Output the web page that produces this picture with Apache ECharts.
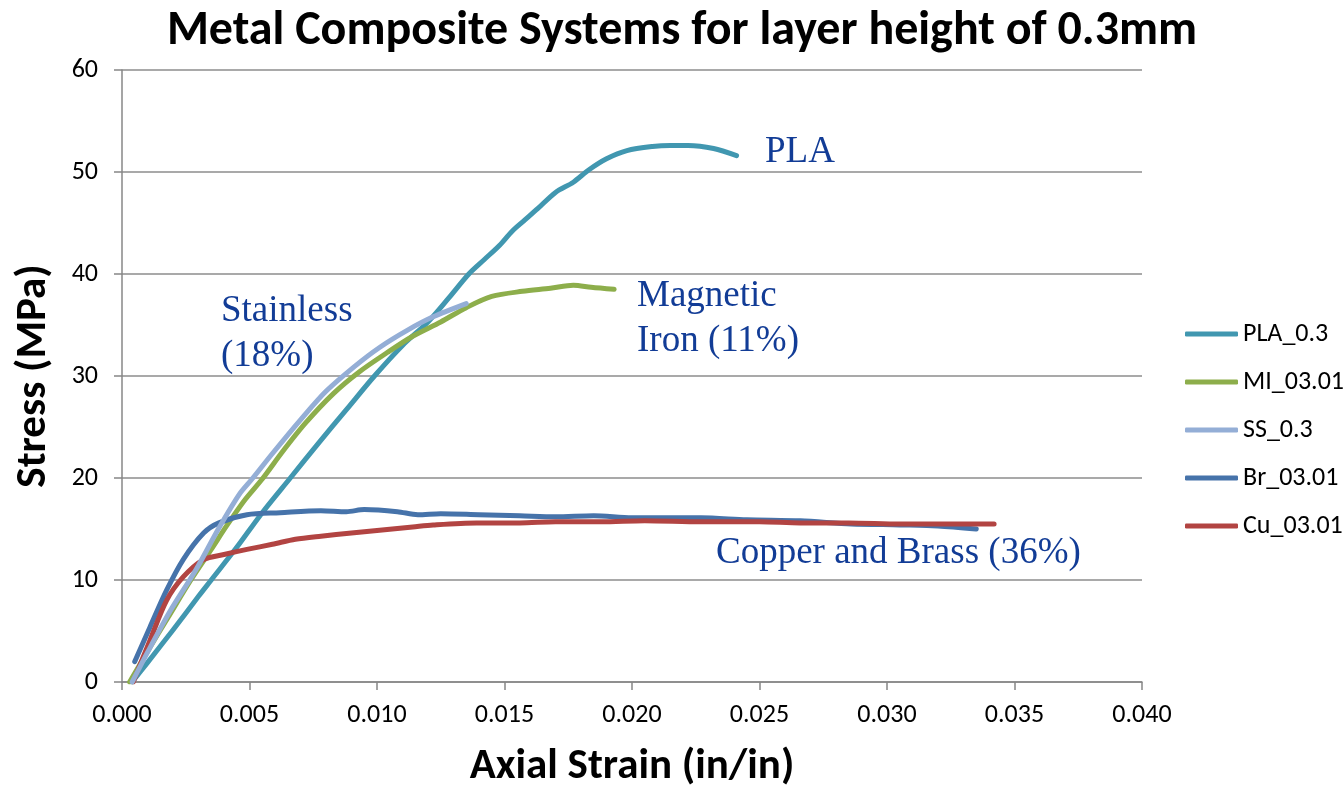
<!DOCTYPE html>
<html>
<head>
<meta charset="utf-8">
<script src="https://cdn.jsdelivr.net/npm/echarts@6/dist/echarts.min.js"></script>
<style>
  html, body { margin: 0; padding: 0; background: #fff; }
  #chart { width: 1344px; height: 786px; }
</style>
</head>
<body>
<div id="chart"></div>
<script>
// Stress-strain curves, [axial strain (in/in), stress (MPa)]
const seriesNames = ['PLA_0.3', 'MI_03.01', 'SS_0.3', 'Br_03.01', 'Cu_03.01'];

const pla = [[0.0004,0],[0.0010,1.9],[0.0020,5.1],[0.0030,8.4],[0.0035,10.0],[0.0045,13.2],[0.0055,16.6],
  [0.0066,20.0],[0.0077,23.4],[0.0088,26.7],[0.0099,30.0],[0.0110,33.0],[0.0120,35.3],[0.0128,37.6],
  [0.0136,40.0],[0.0142,41.4],[0.0148,42.8],[0.0153,44.2],[0.0158,45.3],[0.0163,46.4],[0.0170,48.0],
  [0.0177,49.0],[0.0183,50.2],[0.0190,51.3],[0.0198,52.1],[0.0208,52.5],[0.0215,52.6],[0.0222,52.6],
  [0.0232,52.3],[0.0241,51.6]];

const mi = [[0.0003,0],[0.0010,3.0],[0.0018,6.3],[0.0027,10.0],[0.0035,13.0],[0.0041,15.3],[0.0048,17.8],
  [0.0055,19.9],[0.0063,22.6],[0.0072,25.4],[0.0083,28.3],[0.0093,30.4],[0.0104,32.3],[0.0114,33.9],
  [0.0125,35.3],[0.0135,36.7],[0.0145,37.8],[0.0157,38.3],[0.0168,38.6],[0.0177,38.9],[0.0184,38.7],
  [0.0193,38.5]];

const ss = [[0.0004,0],[0.0010,2.9],[0.0019,7.0],[0.0029,11.0],[0.0038,15.1],[0.0046,18.4],[0.0051,19.9],
  [0.0059,22.4],[0.0070,25.7],[0.0080,28.5],[0.0091,30.9],[0.0101,32.8],[0.0112,34.5],[0.0122,35.8],
  [0.0135,37.1]];

const br = [[0.0005,2.0],[0.0011,5.4],[0.00175,9.0],[0.0024,12.0],[0.0032,14.6],[0.0038,15.6],[0.0049,16.4],
  [0.0062,16.6],[0.0078,16.8],[0.0088,16.7],[0.0095,16.9],[0.0108,16.7],[0.0116,16.4],[0.0125,16.5],
  [0.0140,16.4],[0.0156,16.3],[0.0170,16.2],[0.0185,16.3],[0.0200,16.1],[0.0227,16.1],[0.0245,15.9],
  [0.0266,15.8],[0.0286,15.5],[0.0305,15.4],[0.0320,15.3],[0.0335,15.0]];

const cu = [[0.00044,0],[0.0011,4.1],[0.00175,8.0],[0.0024,10.3],[0.0032,12.0],[0.0040,12.5],[0.0049,13.0],
  [0.0059,13.5],[0.0068,14.0],[0.0078,14.3],[0.0090,14.6],[0.0102,14.9],[0.0114,15.2],[0.0122,15.4],
  [0.0139,15.6],[0.0156,15.6],[0.0170,15.7],[0.0188,15.7],[0.0205,15.8],[0.0227,15.7],[0.0250,15.7],
  [0.0266,15.6],[0.0285,15.6],[0.0305,15.5],[0.0325,15.5],[0.0342,15.5]];

const seriesData = [pla, mi, ss, br, cu];
const colors = ['#4197B0', '#8DAE4B', '#94AED6', '#4673AA', '#B24442'];

const sansFont = 'Carlito, Calibri, Lato, sans-serif';
const serifFont = '"Liberation Serif", "Times New Roman", serif';
const noteColor = '#123C96';

const chart = echarts.init(document.getElementById('chart'));

function note(text, left, top) {
  return {
    type: 'text', left: left, top: top,
    style: { text: text, font: '37px ' + serifFont, fill: noteColor, lineHeight: 45 }
  };
}

chart.setOption({
  animation: false,
  color: colors,
  title: {
    text: 'Metal Composite Systems for layer height of 0.3mm',
    left: 677, top: 3, textAlign: 'center',
    textStyle: { fontFamily: sansFont, fontWeight: 'bold', fontSize: 48, color: '#000' }
  },
  grid: { left: 122, right: 202, top: 70, bottom: 104, outerBoundsMode: 'none', containLabel: false },
  xAxis: {
    type: 'value', min: 0, max: 0.04, interval: 0.005,
    name: 'Axial Strain (in/in)', nameLocation: 'middle', nameGap: 64,
    nameTextStyle: { fontFamily: sansFont, fontWeight: 'bold', fontSize: 43, color: '#000' },
    axisLine: { show: true, lineStyle: { color: '#878787', width: 1.5 } },
    axisTick: { show: true, length: 8, lineStyle: { color: '#878787', width: 1.5 } },
    axisLabel: { margin: 20, fontFamily: sansFont, fontSize: 26, color: '#000',
      formatter: v => v.toFixed(3) },
    splitLine: { show: false }
  },
  yAxis: {
    type: 'value', min: 0, max: 60, interval: 10,
    name: 'Stress (MPa)', nameLocation: 'middle', nameGap: 66, nameRotate: 90,
    nameTextStyle: { fontFamily: sansFont, fontWeight: 'bold', fontSize: 43, color: '#000' },
    axisLine: { show: true, lineStyle: { color: '#878787', width: 1.5 } },
    axisTick: { show: true, length: 8, lineStyle: { color: '#878787', width: 1.5 } },
    axisLabel: { margin: 24, fontFamily: sansFont, fontSize: 26, color: '#000' },
    splitLine: { show: true, lineStyle: { color: '#8C8C8C', width: 1.5 } }
  },
  legend: {
    orient: 'vertical', left: 1180, top: 316, itemGap: 22,
    itemWidth: 53, itemHeight: 5, icon: 'roundRect',
    textStyle: { fontFamily: sansFont, fontSize: 26, color: '#000' },
    data: seriesNames
  },
  series: seriesNames.map((name, i) => ({
    name: name, type: 'line', data: seriesData[i],
    showSymbol: false, symbol: 'none', smooth: 0.3,
    lineStyle: { width: 5, color: colors[i], cap: 'round', join: 'round' },
    z: i === 2 ? 3 : 2
  })),
  graphic: [
    note('PLA', 765, 130),
    note('Magnetic\nIron (11%)', 637, 274),
    note('Stainless\n(18%)', 221, 289),
    note('Copper and Brass (36%)', 716, 531)
  ]
});
</script>
</body>
</html>
